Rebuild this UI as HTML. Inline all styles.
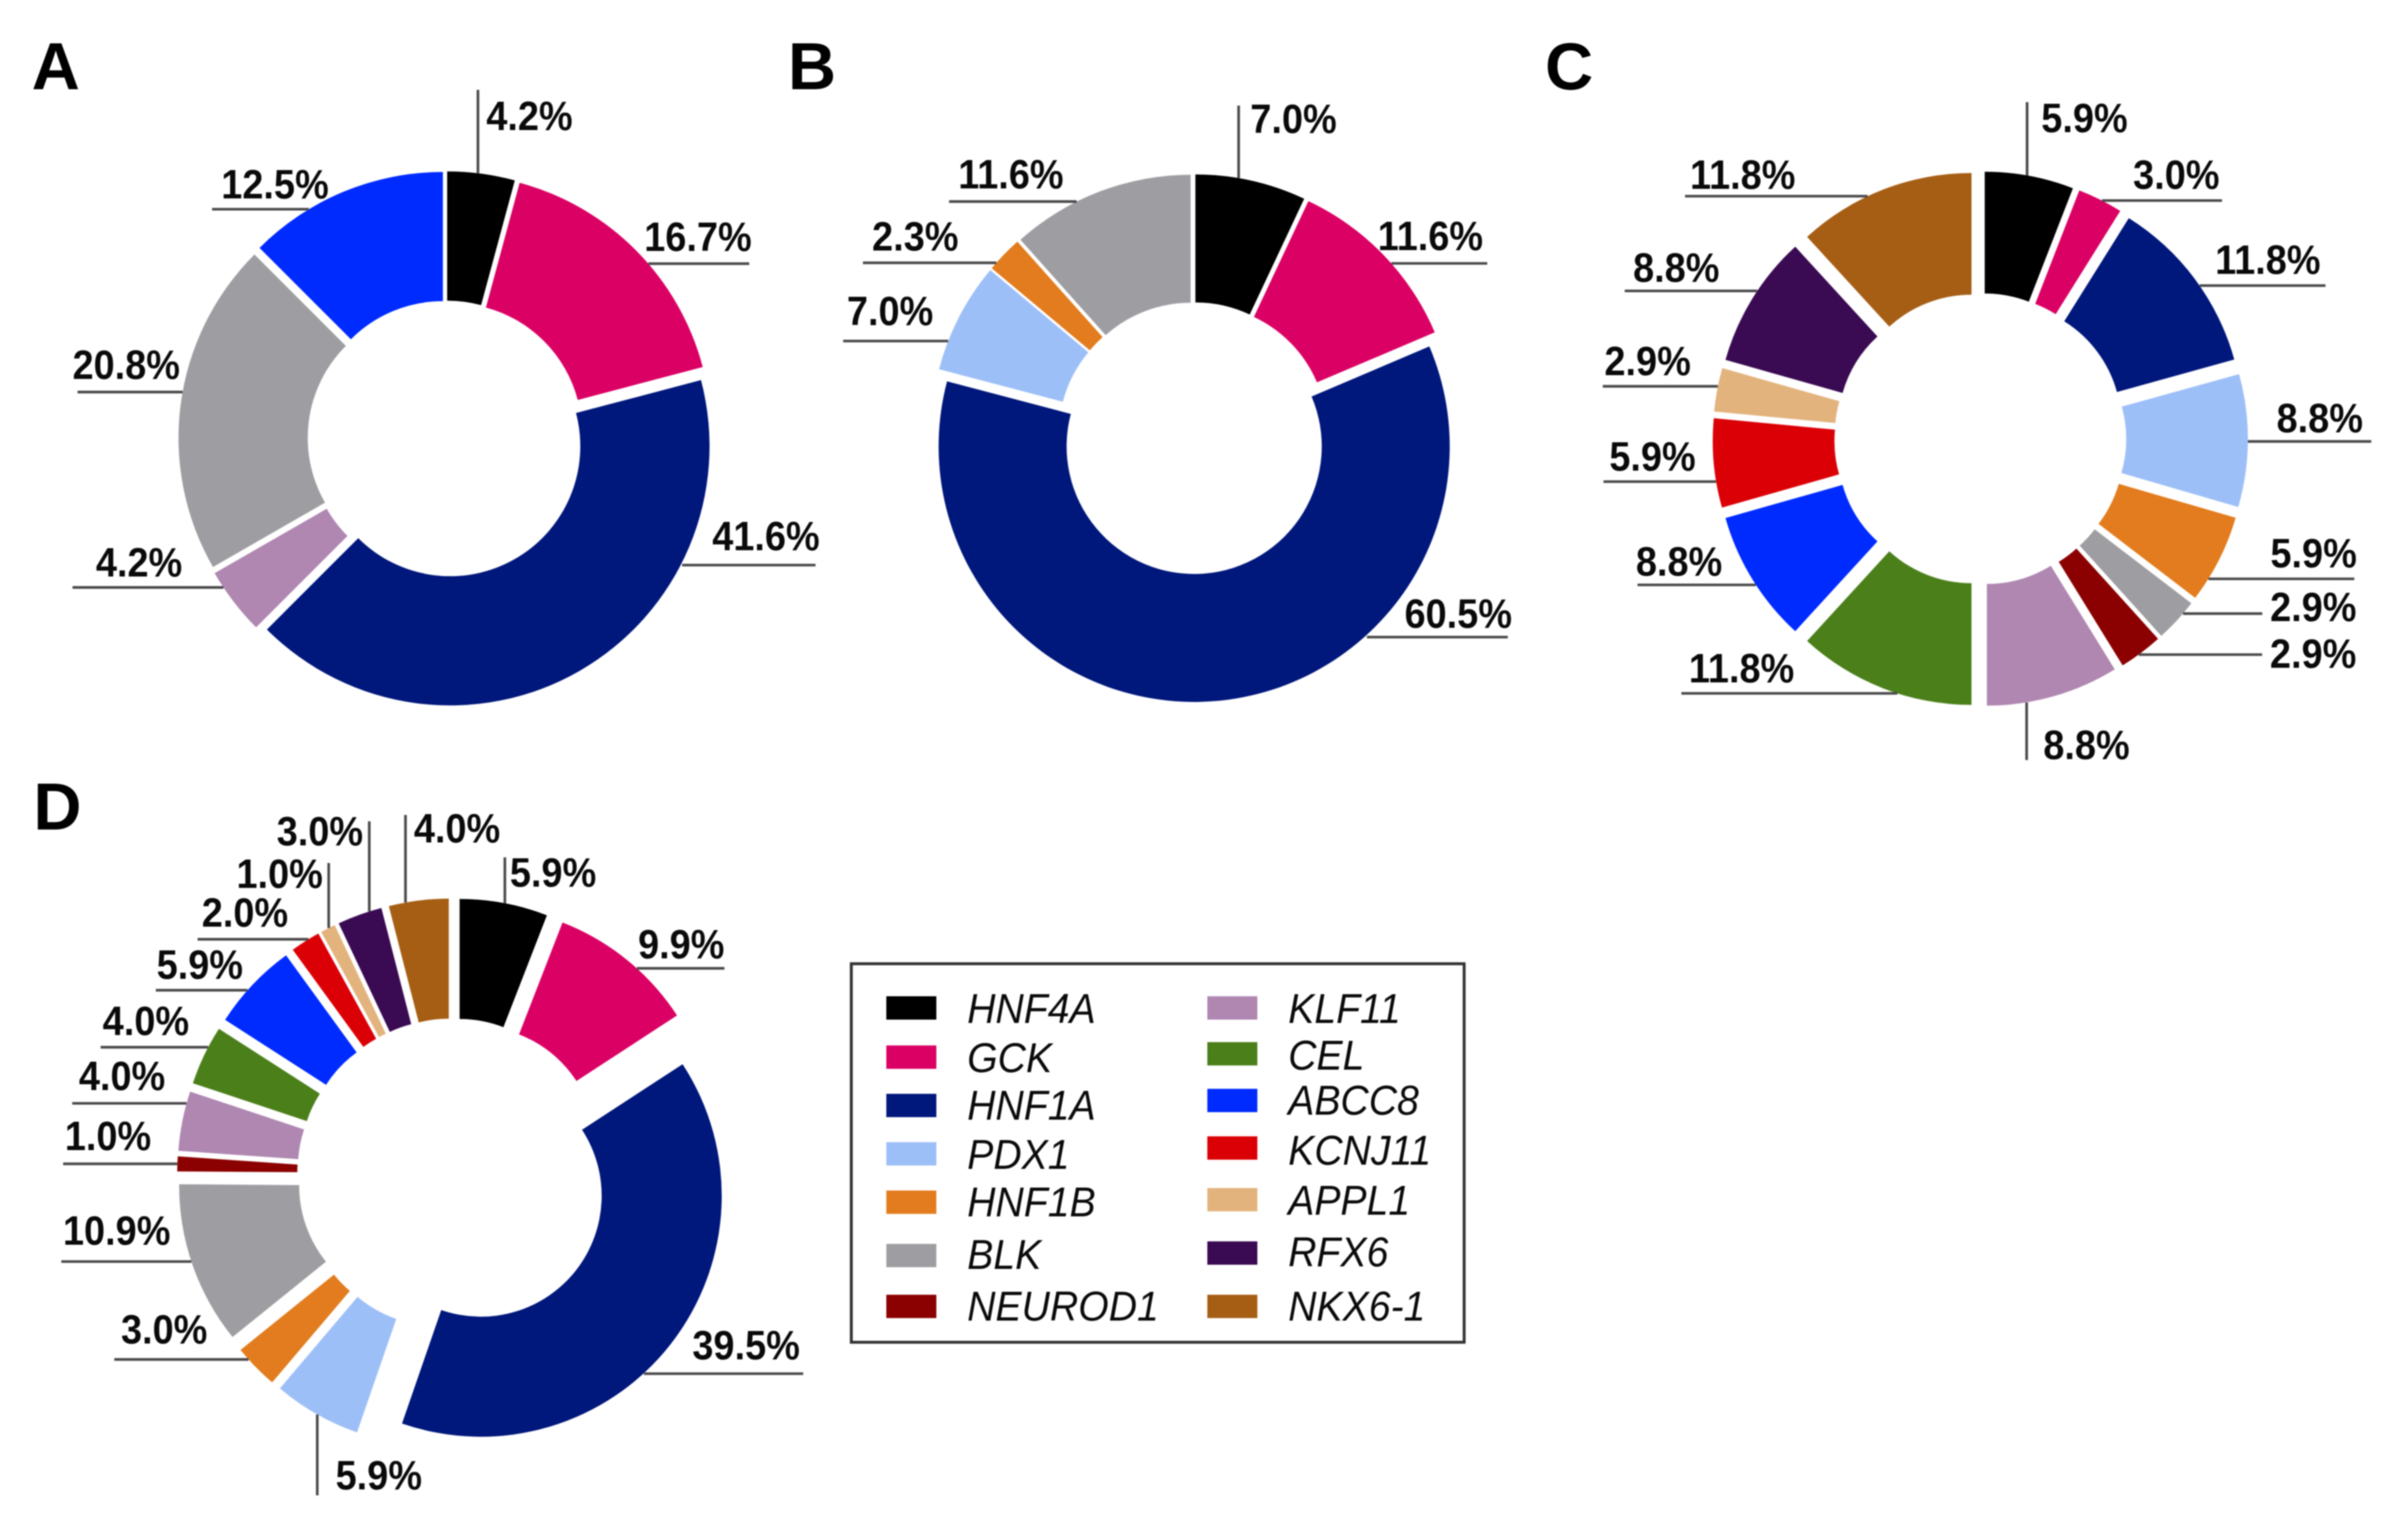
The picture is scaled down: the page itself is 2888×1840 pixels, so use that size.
<!DOCTYPE html>
<html>
<head>
<meta charset="utf-8">
<title>Gene distribution donut charts</title>
<style>
html,body{margin:0;padding:0;background:#fff;}
#figure{display:block;width:2888px;height:1840px;filter:blur(0.8px);}
.pct{font-family:"Liberation Sans",sans-serif;font-weight:700;font-size:49px;fill:#0a0a0a;}
.letter{font-family:"Liberation Sans",sans-serif;font-weight:700;font-size:80px;fill:#000;}
.gene{font-family:"Liberation Sans",sans-serif;font-style:italic;font-size:50px;fill:#0a0a0a;}
</style>
</head>
<body>
<svg id="figure" xmlns="http://www.w3.org/2000/svg" width="2888" height="1840" viewBox="0 0 2888 1840">
  <rect x="0" y="0" width="2888" height="1840" fill="#fff"/>
  <text class="letter" x="38" y="107">A</text>
  <text class="letter" x="945" y="107">B</text>
  <text class="letter" x="1853" y="107">C</text>
  <text class="letter" x="40" y="995">D</text>
  <rect x="1021" y="1156" width="735" height="454" fill="#fff" stroke="#333" stroke-width="3.5"/>
</svg>
<script>
// ---- categories and values ----
const genesA = ["HNF4A","GCK","HNF1A","KLF11","BLK","ABCC8"];
const valuesA = [4.2,16.7,41.6,4.2,20.8,12.5];
const genesB = ["HNF4A","GCK","HNF1A","PDX1","HNF1B","BLK"];
const valuesB = [7.0,11.6,60.5,7.0,2.3,11.6];
const genesC = ["HNF4A","GCK","HNF1A","PDX1","HNF1B","BLK","NEUROD1","KLF11","CEL","ABCC8","KCNJ11","APPL1","RFX6","NKX6-1"];
const valuesC = [5.9,3.0,11.8,8.8,5.9,2.9,2.9,8.8,11.8,8.8,5.9,2.9,8.8,11.8];
const genesD = ["HNF4A","GCK","HNF1A","PDX1","HNF1B","BLK","NEUROD1","KLF11","CEL","ABCC8","KCNJ11","APPL1","RFX6","NKX6-1"];
const valuesD = [5.9,9.9,39.5,5.9,3.0,10.9,1.0,4.0,4.0,5.9,2.0,1.0,3.0,4.0];
const legendColumn1 = ["HNF4A","GCK","HNF1A","PDX1","HNF1B","BLK","NEUROD1"];
const legendColumn2 = ["KLF11","CEL","ABCC8","KCNJ11","APPL1","RFX6","NKX6-1"];

// ---- styling ----
const geneColors = {"HNF4A":"#000000","GCK":"#DB0064","HNF1A":"#00177B","PDX1":"#9DBFF7","HNF1B":"#E27C1E","BLK":"#9E9EA2","NEUROD1":"#8B0000","KLF11":"#AF87B1","CEL":"#4B7F1A","ABCC8":"#002BFF","KCNJ11":"#DB0006","APPL1":"#E3B37E","RFX6":"#3A0A52","NKX6-1":"#A65E14"};
const geomA = {cx:535,cy:526.5,R:311,r:156,d:10};
const geomB = {cx:1431.5,cy:525.5,R:306.5,r:153,d:10};
const geomC = {cx:2375,cy:526.5,R:292,r:146,d:29};
const geomD = {cx:543.5,cy:1408.5,R:289,r:145,d:42};
// leader style per label: side, shift from the slice mid-angle, length, text offset x, text offset y
const leadersA = [["U",-4,100,10,48],["R",16,121,3,-15],["R",-127,160,5,-18],["L",-17,181,28,-13],["L",-14,126,-6,-16],["L",21,116,11,-13]];
const leadersB = [["U",-15,87,14,33],["R",10,115,-5,-16],["R",-77,169,5,-11],["L",29,126,4.5,-19],["L",10,160,11,-14.6],["L",12,153,11,-16]];
const leadersC = [["U",-3,88,17,36],["R",1,144,-3,-14],["R",8,151,-6,-14],["R",1,148,-10,-11],["R",23,175,3,-14],["R",-8,95,113,9],["R",2,148,113,16],["D",-32,69,20,-1],["L",6,259,9,-13],["L",6.5,142,-2,-11],["L",22,135,7,-13],["L",-4,138,2,-13.5],["L",-9,159,10,-11],["L",8,219,6,-9]];
const leadersD = [["U",1,55,6,35],["R",10,105,0,-12],["R",35.5,191,-4,-17],["D",1,97,22,-7],["L",-9,161,8,-19],["L",-4.5,156,2,-20],["L",0,137,2,-16.6],["L",-21,137,8,-16],["L",-9.6,129,2.5,-14.5],["L",6.6,110,1,-13.6],["L",-2.4,133,5,-15],["UE",1,78,-7,30],["UE",11.5,108,-7.4,29],["U",-15.7,105,10,33]];

const SVGNS = "http://www.w3.org/2000/svg";
const svg = document.getElementById("figure");

function polar(g, radius, deg){
  const a = deg * Math.PI / 180;
  return {x: g.cx + radius * Math.sin(a), y: g.cy - radius * Math.cos(a)};
}
function valueToAngle(v, total){
  return v / total * 360;
}
function slicePath(g, a0, a1){
  const mid = (a0 + a1) / 2, m = mid * Math.PI / 180;
  const ox = g.d * Math.sin(m), oy = -g.d * Math.cos(m);
  const shifted = {cx: g.cx + ox, cy: g.cy + oy};
  const p1 = polar(shifted, g.R, a0), p2 = polar(shifted, g.R, a1);
  const p3 = polar(shifted, g.r, a1), p4 = polar(shifted, g.r, a0);
  const large = (a1 - a0) > 180 ? 1 : 0;
  return "M" + p1.x + " " + p1.y + " A" + g.R + " " + g.R + " 0 " + large + " 1 " + p2.x + " " + p2.y +
         " L" + p3.x + " " + p3.y + " A" + g.r + " " + g.r + " 0 " + large + " 0 " + p4.x + " " + p4.y + " Z";
}
function drawDonut(panel, g, genes, values, leaders){
  const group = document.createElementNS(SVGNS, "g");
  
  
  svg.appendChild(group);
  const total = values.reduce(function(s, v){ return s + v; }, 0);
  const rl = g.R + g.d;
  let cum = 0;
  values.forEach(function(v, i){
    const a0 = valueToAngle(cum, total);
    cum += v;
    const a1 = valueToAngle(cum, total);
    const mid = (a0 + a1) / 2;
    const gene = genes[i];
    const key = gene.toLowerCase();

    const path = document.createElementNS(SVGNS, "path");
    path.setAttribute("d", slicePath(g, a0, a1));
    path.setAttribute("fill", geneColors[gene]);
    
    
    group.appendChild(path);

    const lay = leaders[i];
    const side = lay[0], shift = lay[1], len = lay[2], tx = lay[3], ty = lay[4];
    const anchor = polar(g, rl, mid);
    let x1, y1, x2, y2, textX, textY, textAnchor = "start";
    if (side === "R" || side === "L") {
      y1 = y2 = anchor.y + shift;
      const h = Math.sqrt(Math.max(0, rl * rl - (y1 - g.cy) * (y1 - g.cy)));
      if (side === "R") {
        x1 = g.cx + h; x2 = x1 + len; textAnchor = "end";
      } else {
        x1 = g.cx - h; x2 = x1 - len;
      }
      textX = x2 + tx; textY = y1 + ty;
    } else {
      x1 = x2 = anchor.x + shift;
      const w = Math.sqrt(Math.max(0, rl * rl - (x1 - g.cx) * (x1 - g.cx)));
      if (side === "D") {
        y1 = g.cy + w; y2 = y1 + len;
        textY = y2 + ty;
      } else {
        y1 = g.cy - w; y2 = y1 - len;
        textY = y2 + ty;
      }
      if (side === "UE") textAnchor = "end";
      textX = x1 + tx;
    }
    const line = document.createElementNS(SVGNS, "line");
    line.setAttribute("x1", x1);
    line.setAttribute("y1", y1);
    line.setAttribute("x2", x2);
    line.setAttribute("y2", y2);
    line.setAttribute("stroke", "#4a4a4a");
    line.setAttribute("stroke-width", "3.2");
    
    
    group.appendChild(line);

    const label = document.createElementNS(SVGNS, "text");
    label.setAttribute("class", "pct");
    label.setAttribute("transform", "translate(" + textX + " " + textY + ") scale(0.928 1)");
    label.setAttribute("text-anchor", textAnchor);
    
    
    label.textContent = v.toFixed(1) + "%";
    group.appendChild(label);
  });
}
drawDonut("a", geomA, genesA, valuesA, leadersA);
drawDonut("b", geomB, genesB, valuesB, leadersB);
drawDonut("c", geomC, genesC, valuesC, leadersC);
drawDonut("d", geomD, genesD, valuesD, leadersD);

// ---- legend ----
function drawLegendColumn(names, swatchX, textX, centerYs, baselineYs){
  names.forEach(function(name, i){
    const key = name.toLowerCase();
    const sw = document.createElementNS(SVGNS, "rect");
    sw.setAttribute("x", swatchX);
    sw.setAttribute("y", centerYs[i] - 14);
    sw.setAttribute("width", 60);
    sw.setAttribute("height", 28);
    sw.setAttribute("fill", geneColors[name]);
    
    
    svg.appendChild(sw);
    const t = document.createElementNS(SVGNS, "text");
    t.setAttribute("class", "gene");
    t.setAttribute("transform", "translate(" + textX + " " + baselineYs[i] + ") scale(0.94 1)");
    
    
    t.textContent = name;
    svg.appendChild(t);
  });
}
drawLegendColumn(legendColumn1, 1063, 1160, [1209,1268,1326,1384,1442,1506,1567], [1227,1286,1343,1402,1459,1522,1584]);
drawLegendColumn(legendColumn2, 1448, 1545, [1209,1264,1320,1377,1439,1503,1567], [1227,1283,1337,1397,1457,1519,1584]);
</script>
</body>
</html>
